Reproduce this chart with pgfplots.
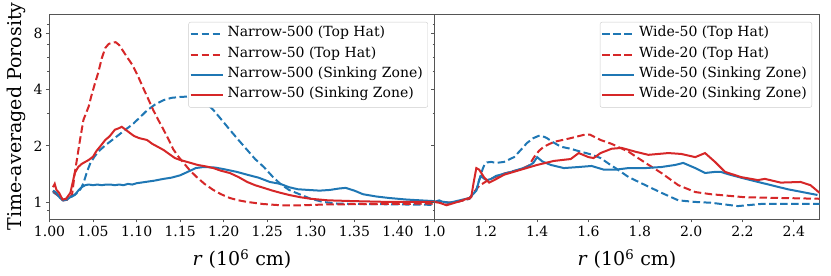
\documentclass[border=0pt]{standalone}
\usepackage{fontspec}
\setmainfont{DejaVu Serif}
\usepackage{pgfplots}
\pgfplotsset{compat=1.18}
\definecolor{tblue}{HTML}{1F77B4}
\definecolor{tred}{HTML}{D62728}
\definecolor{spine}{HTML}{555555}
\tikzset{
  dashd/.style={dash pattern=on 7.5pt off 3.5pt, line width=2pt},
  sol/.style={line width=2pt},
}
\pgfplotsset{
  every axis/.append style={
    width=385pt, height=205pt, scale only axis,
    ymin=0.81, ymax=10.2,
    tick align=outside, xtick pos=left, ytick pos=left,
    major tick length=3.5pt, minor tick length=2pt,
    axis line style={spine, line width=0.8pt},
    tick style={spine, line width=0.8pt},
    tick label style={font=\fontsize{14}{14}\selectfont},
    label style={font=\fontsize{19}{19}\selectfont},
    legend cell align=left,
    legend style={at={(rel axis cs:1,1)}, anchor=north east, xshift=-6.5pt, yshift=-8pt,
      draw=black!20, rounded corners=2pt, font=\fontsize{14}{14}\selectfont,
      inner xsep=1pt, inner ysep=2pt,
      nodes={inner xsep=4pt, inner ysep=0pt, text height=12.7pt, text depth=7.6pt}, row sep=0pt},
  },
}
\begin{document}
\begin{tikzpicture}
\useasboundingbox (-49.5pt,-57pt) rectangle (781.5pt,219pt);
\begin{axis}[at={(0pt,0pt)}, anchor=south west,
  ymode=log,
  ytick={1,2,4,8}, minor ytick={0.9,3,5,6,7,9},
  xmin=1, xmax=1.442,
  xtick={1.00,1.05,1.10,1.15,1.20,1.25,1.30,1.35,1.40},
  xticklabels={1.00,1.05,1.10,1.15,1.20,1.25,1.30,1.35,1.40},
  yticklabels={1,2,4,8},
  xlabel={\textit{r} (10\textsuperscript{6} cm)},
  xlabel style={at={(axis description cs:0.5,0)}, anchor=center, yshift=-40pt},
  ylabel={Time-averaged Porosity},
  ylabel style={at={(axis description cs:-0.087,0.5)}, anchor=center},
  legend image code/.code={\draw[#1] (0pt,0pt) -- (32pt,0pt);},
]
\addplot[tblue, dashd] coordinates {
(1.004,1.13)(1.010,1.08)(1.015,1.02)(1.020,1.03)(1.026,1.07)(1.032,1.12)(1.036,1.18)(1.039,1.26)
(1.043,1.45)(1.047,1.62)(1.052,1.76)(1.058,1.90)(1.065,2.03)(1.072,2.15)(1.080,2.30)(1.087,2.44)
(1.095,2.60)(1.104,2.85)(1.112,3.10)(1.121,3.33)(1.131,3.52)(1.140,3.62)(1.150,3.66)(1.160,3.68)
(1.170,3.63)(1.178,3.45)(1.188,3.12)(1.197,2.78)(1.207,2.44)(1.217,2.15)(1.227,1.90)(1.236,1.70)
(1.246,1.54)(1.256,1.37)(1.265,1.25)(1.275,1.16)(1.287,1.10)(1.300,1.04)(1.314,1.00)(1.330,0.98)
(1.360,0.975)(1.400,0.97)(1.442,0.965)};
\addlegendentry{Narrow-500 (Top Hat)}
\addplot[tred, dashd] coordinates {
(1.004,1.15)(1.010,1.08)(1.016,1.02)(1.022,1.03)(1.026,1.10)(1.029,1.43)(1.032,1.75)(1.035,2.15)
(1.039,2.76)(1.042,3.00)(1.045,3.25)(1.048,3.70)(1.052,4.30)(1.056,4.95)(1.060,5.90)(1.064,6.70)
(1.068,7.05)(1.072,7.15)(1.076,7.20)(1.080,6.95)(1.085,6.40)(1.090,5.90)(1.095,5.45)(1.101,4.80)
(1.108,4.05)(1.113,3.60)(1.119,3.12)(1.125,2.75)(1.131,2.44)(1.137,2.15)(1.142,1.92)(1.148,1.75)
(1.154,1.62)(1.161,1.48)(1.169,1.36)(1.178,1.25)(1.188,1.16)(1.197,1.10)(1.207,1.05)(1.217,1.02)
(1.227,1.00)(1.245,0.975)(1.265,0.96)(1.290,0.96)(1.320,0.97)(1.380,0.975)(1.442,0.98)};
\addlegendentry{Narrow-50 (Top Hat)}
\addplot[tblue, sol] coordinates {
(1.004,1.15)(1.008,1.12)(1.012,1.05)(1.016,1.02)(1.020,1.03)(1.025,1.07)(1.029,1.09)(1.033,1.15)
(1.037,1.20)(1.041,1.23)(1.045,1.24)(1.050,1.23)(1.055,1.24)(1.060,1.23)(1.065,1.24)(1.070,1.24)
(1.075,1.23)(1.080,1.24)(1.085,1.23)(1.090,1.25)(1.095,1.24)(1.100,1.26)(1.110,1.28)(1.120,1.30)
(1.131,1.33)(1.140,1.35)(1.150,1.39)(1.160,1.46)(1.168,1.52)(1.177,1.54)(1.190,1.53)(1.200,1.50)
(1.215,1.45)(1.227,1.40)(1.240,1.35)(1.253,1.28)(1.265,1.25)(1.275,1.20)(1.285,1.17)(1.297,1.16)
(1.310,1.15)(1.322,1.16)(1.332,1.18)(1.340,1.19)(1.350,1.15)(1.360,1.10)(1.375,1.07)(1.390,1.05)
(1.410,1.03)(1.442,1.01)};
\addlegendentry{Narrow-500 (Sinking Zone)}
\addplot[tred, sol] coordinates {
(1.004,1.20)(1.006,1.25)(1.008,1.16)(1.011,1.12)(1.015,1.03)(1.019,1.04)(1.024,1.12)(1.029,1.43)
(1.033,1.54)(1.037,1.60)(1.041,1.64)(1.045,1.68)(1.050,1.75)(1.054,1.88)(1.058,1.98)(1.064,2.15)
(1.069,2.25)(1.075,2.44)(1.079,2.48)(1.083,2.53)(1.087,2.45)(1.092,2.35)(1.097,2.26)(1.103,2.20)
(1.112,2.15)(1.118,2.05)(1.124,1.98)(1.131,1.90)(1.138,1.80)(1.144,1.72)(1.150,1.68)(1.160,1.63)
(1.170,1.58)(1.180,1.55)(1.188,1.52)(1.197,1.47)(1.207,1.43)(1.217,1.36)(1.227,1.28)(1.236,1.23)
(1.246,1.19)(1.256,1.15)(1.265,1.12)(1.275,1.09)(1.288,1.06)(1.300,1.04)(1.320,1.02)(1.350,1.01)
(1.390,1.00)(1.442,1.00)};
\addlegendentry{Narrow-50 (Sinking Zone)}
\end{axis}
\begin{axis}[at={(385pt,0pt)}, anchor=south west,
  ymode=log,
  ytick={1,2,4,8}, minor ytick={0.9,3,5,6,7,9},
  xmin=1, xmax=2.5,
  xtick={1.0,1.2,1.4,1.6,1.8,2.0,2.2,2.4},
  xticklabels={1.0,1.2,1.4,1.6,1.8,2.0,2.2,2.4},
  yticklabels={},
  xlabel={\textit{r} (10\textsuperscript{6} cm)},
  xlabel style={at={(axis description cs:0.5,0)}, anchor=center, yshift=-40pt},
  legend style={xshift=-1pt},
  legend image code/.code={\draw[#1] (0pt,0pt) -- (32pt,0pt);},
]
\addplot[tblue, dashd] coordinates {
(1.000,1.00)(1.019,1.02)(1.030,1.00)(1.058,0.99)(1.100,1.01)(1.136,1.04)(1.150,1.10)(1.163,1.16)
(1.174,1.31)(1.186,1.48)(1.194,1.58)(1.205,1.63)(1.221,1.64)(1.240,1.62)(1.271,1.64)(1.310,1.74)
(1.336,1.90)(1.360,2.07)(1.385,2.20)(1.405,2.26)(1.420,2.26)(1.438,2.20)(1.465,2.08)(1.492,1.98)
(1.530,1.93)(1.570,1.86)(1.610,1.80)(1.647,1.72)(1.680,1.60)(1.705,1.52)(1.756,1.36)(1.822,1.23)
(1.884,1.12)(1.950,1.02)(2.016,1.00)(2.078,0.99)(2.182,0.95)(2.271,0.975)(2.500,0.975)};
\addlegendentry{Wide-50 (Top Hat)}
\addplot[tred, dashd] coordinates {
(1.000,1.00)(1.030,1.00)(1.058,0.99)(1.100,1.01)(1.136,1.04)(1.147,1.10)(1.174,1.22)(1.213,1.32)
(1.271,1.42)(1.337,1.50)(1.368,1.57)(1.388,1.74)(1.407,1.88)(1.426,1.98)(1.465,2.10)(1.531,2.20)
(1.581,2.29)(1.605,2.30)(1.647,2.15)(1.690,2.05)(1.756,1.86)(1.822,1.62)(1.884,1.43)(1.950,1.23)
(2.016,1.13)(2.078,1.10)(2.209,1.06)(2.500,1.04)};
\addlegendentry{Wide-20 (Top Hat)}
\addplot[tblue, sol] coordinates {
(1.000,1.00)(1.019,1.01)(1.058,0.99)(1.136,1.05)(1.163,1.15)(1.174,1.31)(1.182,1.38)(1.194,1.33)
(1.205,1.31)(1.221,1.33)(1.240,1.38)(1.298,1.45)(1.360,1.54)(1.385,1.62)(1.400,1.74)(1.420,1.65)
(1.453,1.58)(1.504,1.52)(1.562,1.54)(1.612,1.56)(1.660,1.49)(1.705,1.49)(1.756,1.52)(1.822,1.52)
(1.884,1.54)(1.938,1.58)(1.969,1.62)(2.016,1.52)(2.054,1.43)(2.093,1.45)(2.116,1.45)(2.143,1.41)
(2.194,1.35)(2.271,1.27)(2.376,1.17)(2.492,1.09)};
\addlegendentry{Wide-50 (Sinking Zone)}
\addplot[tred, sol] coordinates {
(1.000,1.00)(1.019,0.99)(1.047,0.96)(1.100,1.01)(1.143,1.06)(1.152,1.26)(1.163,1.52)(1.174,1.49)
(1.194,1.35)(1.213,1.27)(1.233,1.31)(1.271,1.40)(1.337,1.49)(1.400,1.58)(1.465,1.66)(1.531,1.70)
(1.562,1.83)(1.600,1.74)(1.620,1.72)(1.647,1.83)(1.690,1.93)(1.729,1.95)(1.783,1.86)(1.833,1.79)
(1.911,1.83)(1.961,1.81)(2.016,1.74)(2.054,1.83)(2.093,1.64)(2.132,1.45)(2.194,1.36)(2.260,1.31)
(2.287,1.33)(2.349,1.27)(2.426,1.28)(2.465,1.23)(2.500,1.12)};
\addlegendentry{Wide-20 (Sinking Zone)}
\end{axis}
\end{tikzpicture}
\end{document}
